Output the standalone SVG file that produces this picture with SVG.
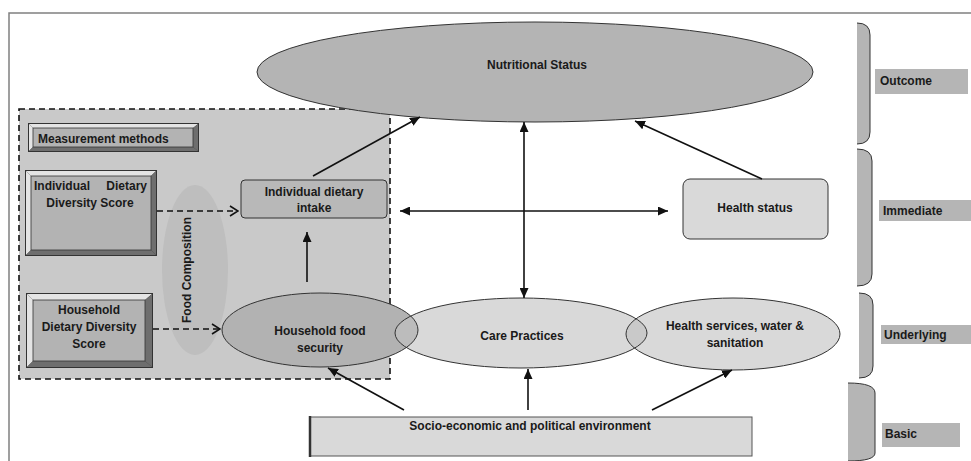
<svg xmlns="http://www.w3.org/2000/svg" width="971" height="461" viewBox="0 0 971 461">
<defs>
<marker id="ah" markerUnits="userSpaceOnUse" markerWidth="11" markerHeight="9" refX="10" refY="4.5" orient="auto-start-reverse">
<path d="M0,0 L10,4.5 L0,9 Z" fill="#111"/>
</marker>
<marker id="oh" markerUnits="userSpaceOnUse" markerWidth="10" markerHeight="12" refX="9" refY="6" orient="auto">
<path d="M1,1 L9,6 L1,11" fill="none" stroke="#111" stroke-width="1.6"/>
</marker>
<clipPath id="careClip"><ellipse cx="521" cy="333" rx="126" ry="35"/></clipPath>
</defs>
<style>
text{font-family:"Liberation Sans",Arial,sans-serif;font-weight:bold;font-size:12px;fill:#1a1a1a}
.c{text-anchor:middle}
.ln{stroke:#111;stroke-width:1.6;fill:none}
.dash{stroke:#111;stroke-width:1.6;fill:none;stroke-dasharray:6 4}
.lt{fill:#e4e4e4}
.dk{fill:#6e6e6e}
.face{fill:#b3b3b3;stroke:#333;stroke-width:0.8}
.br{fill:#b5b5b5}
.bro{fill:none;stroke:#333;stroke-width:1}
.lab{fill:#b5b5b5}
.ol{fill:none;stroke:#333;stroke-width:1}
</style>
<rect width="971" height="461" fill="#fff"/>
<!-- frame -->
<path d="M9,461 L9,13 L971,13" fill="none" stroke="#808080" stroke-width="1.5"/>

<g id="measurement-area">
<rect x="19" y="109" width="371" height="270" fill="#c9c9c9" stroke="#111" stroke-width="1.6" stroke-dasharray="6 4"/>
</g>

<g id="nutritional-status">
<ellipse cx="535" cy="72" rx="278" ry="50" fill="#b4b4b4" stroke="#333" stroke-width="1"/>
<text class="c" x="537" y="69">Nutritional Status</text>
</g>

<g id="food-composition">
<ellipse cx="195" cy="270" rx="33" ry="85" fill="#bebebe"/>
<text class="c" transform="translate(191,270) rotate(-90)">Food Composition</text>
</g>

<g id="measurement-methods">
<rect x="28" y="123" width="171" height="29" fill="#333"/>
<polygon class="lt" points="29,124 198,124 193,128 33,128"/>
<polygon class="lt" points="29,124 33,128 33,147 29,151"/>
<polygon class="dk" points="198,124 198,151 193,147 193,128"/>
<polygon class="dk" points="29,151 33,147 193,147 198,151"/>
<rect class="face" x="33" y="128" width="160" height="19"/>
<text x="38" y="143">Measurement methods</text>
</g>

<g id="idds">
<rect x="25" y="170" width="132" height="86" fill="#333"/>
<polygon class="lt" points="26,171 156,171 151,176 31,176"/>
<polygon class="lt" points="26,171 31,176 31,250 26,255"/>
<polygon class="dk" points="156,171 156,255 151,250 151,176"/>
<polygon class="dk" points="26,255 31,250 151,250 156,255"/>
<rect class="face" x="31" y="176" width="120" height="74"/>
<text x="34" y="190">Individual</text>
<text x="147" y="190" text-anchor="end">Dietary</text>
<text class="c" x="90" y="207">Diversity Score</text>
</g>

<g id="hdds">
<rect x="26" y="293" width="127" height="75" fill="#333"/>
<polygon class="lt" points="27,294 152,294 145,300 33,300"/>
<polygon class="lt" points="27,294 33,300 33,361 27,367"/>
<polygon class="dk" points="152,294 152,367 145,361 145,300"/>
<polygon class="dk" points="27,367 33,361 145,361 152,367"/>
<rect class="face" x="33" y="300" width="112" height="61"/>
<text class="c" x="89" y="314">Household</text>
<text class="c" x="89" y="331">Dietary Diversity</text>
<text class="c" x="89" y="348">Score</text>
</g>

<g id="individual-dietary-intake">
<rect x="241" y="180" width="146" height="38" rx="4" fill="#b8b8b8" stroke="#333" stroke-width="1"/>
<text class="c" x="314" y="196">Individual dietary</text>
<text class="c" x="314" y="212">intake</text>
</g>

<g id="health-status">
<rect x="683" y="179" width="145" height="60" rx="7" fill="#d9d9d9" stroke="#333" stroke-width="1"/>
<text class="c" x="755" y="212">Health status</text>
</g>

<g id="care-practices">
<ellipse cx="521" cy="333" rx="126" ry="35" fill="#d9d9d9"/>
</g>

<g id="household-food-security">
<ellipse cx="320" cy="330" rx="98" ry="37" fill="#b2b2b2"/>
<ellipse cx="320" cy="330" rx="98" ry="37" fill="#bcbcbc" clip-path="url(#careClip)"/>
<ellipse class="ol" cx="320" cy="330" rx="98" ry="37"/>
<text class="c" x="320" y="335">Household food</text>
<text class="c" x="320" y="352">security</text>
</g>

<g id="health-services">
<ellipse cx="733" cy="334" rx="107" ry="36" fill="#d9d9d9"/>
<ellipse cx="733" cy="334" rx="107" ry="36" fill="#c9c9c9" clip-path="url(#careClip)"/>
<ellipse class="ol" cx="733" cy="334" rx="107" ry="36"/>
<text class="c" x="735" y="330">Health services, water &amp;</text>
<text class="c" x="735" y="347">sanitation</text>
</g>

<g id="care-practices-label">
<ellipse class="ol" cx="521" cy="333" rx="126" ry="35"/>
<text class="c" x="522" y="340">Care Practices</text>
</g>

<g id="socio-economic">
<rect x="310" y="417" width="442" height="39" fill="#d9d9d9" stroke="#555" stroke-width="1"/>
<line x1="310" y1="416" x2="310" y2="457" stroke="#333" stroke-width="2.5"/>
<text class="c" x="530" y="430">Socio-economic and political environment</text>
</g>

<g id="level-outcome">
<path class="br" d="M857,23 Q870,23 870,35 L870,132 Q870,144 857,144 Z"/>
<path class="bro" d="M857,23 Q870,23 870,35 L870,132 Q870,144 857,144"/>
<rect class="lab" x="875" y="69" width="93" height="25"/>
<text x="880" y="85">Outcome</text>
</g>
<g id="level-immediate">
<path class="br" d="M857,149 Q872,149 872,161 L872,274 Q872,286 857,286 Z"/>
<path class="bro" d="M857,149 Q872,149 872,161 L872,274 Q872,286 857,286"/>
<rect class="lab" x="879" y="200" width="92" height="21"/>
<text x="883" y="215">Immediate</text>
</g>
<g id="level-underlying">
<path class="br" d="M859,293 Q873,293 873,305 L873,366 Q873,378 859,378 Z"/>
<path class="bro" d="M859,293 Q873,293 873,305 L873,366 Q873,378 859,378"/>
<rect class="lab" x="881" y="325" width="90" height="19"/>
<text x="884" y="339">Underlying</text>
</g>
<g id="level-basic">
<path class="br" d="M848,383 Q875,383 875,393 L875,453 Q875,461 848,461 Z"/>
<path class="bro" d="M848,383 Q875,383 875,393 L875,453 Q875,461 848,461"/>
<rect class="lab" x="882" y="423" width="78" height="24"/>
<text x="885" y="438">Basic</text>
</g>

<g id="connectors">
<line class="dash" x1="157" y1="211" x2="238" y2="211" marker-end="url(#oh)"/>
<line class="dash" x1="153" y1="329" x2="220" y2="329" marker-end="url(#oh)"/>
<line class="ln" x1="307" y1="282" x2="307" y2="232" marker-end="url(#ah)"/>
<line class="ln" x1="313" y1="176" x2="420" y2="117" marker-end="url(#ah)"/>
<line class="ln" x1="762" y1="179" x2="635" y2="121" marker-end="url(#ah)"/>
<line class="ln" x1="400" y1="211" x2="668" y2="211" marker-start="url(#ah)" marker-end="url(#ah)"/>
<line class="ln" x1="524" y1="122" x2="524" y2="298" marker-start="url(#ah)" marker-end="url(#ah)"/>
<line class="ln" x1="404" y1="410" x2="328" y2="368" marker-end="url(#ah)"/>
<line class="ln" x1="528" y1="410" x2="528" y2="369" marker-end="url(#ah)"/>
<line class="ln" x1="652" y1="410" x2="732" y2="370" marker-end="url(#ah)"/>
</g>
</svg>
